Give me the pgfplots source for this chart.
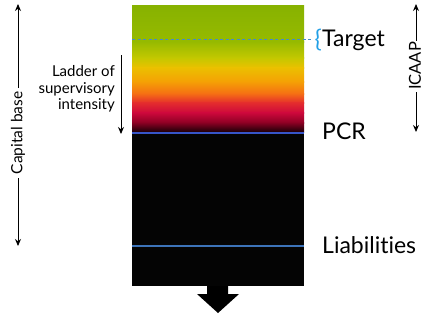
\documentclass[border=0pt]{standalone}
\usepackage{pgfplots}
\pgfplotsset{compat=1.18}
\usepackage{fontspec}
\setmainfont[Ligatures={NoCommon,NoRare}]{Lato}
\usetikzlibrary{arrows.meta}
\definecolor{g1}{RGB}{135,178,0}
\definecolor{g2}{RGB}{150,186,0}
\definecolor{g3}{RGB}{195,200,0}
\definecolor{y1}{RGB}{235,192,0}
\definecolor{o1}{RGB}{245,160,5}
\definecolor{o2}{RGB}{245,110,20}
\definecolor{r1}{RGB}{228,45,45}
\definecolor{r2}{RGB}{205,8,60}
\definecolor{r3}{RGB}{140,0,35}
\definecolor{k1}{RGB}{20,0,5}
\definecolor{bk}{RGB}{4,4,4}
\definecolor{dashblue}{RGB}{70,140,200}
\definecolor{pcrblue}{RGB}{55,85,200}
\definecolor{libblue}{RGB}{60,115,185}
\definecolor{braceblue}{RGB}{35,160,230}
\begin{document}
\begin{tikzpicture}
\begin{axis}[
  width=425pt, height=314pt, scale only axis,
  xmin=0, xmax=425, ymin=0, ymax=314, y dir=reverse,
  axis lines=none, clip=false,
]
% invisible frame
\addplot[draw=none] coordinates {(0,0) (425,314)};
% black lower part
\addplot[draw=none, fill=bk] coordinates {(132,133) (304,133) (304,286) (132,286)} --cycle;
% gradient bands
\addplot[draw=none, top color=g1, bottom color=g2] coordinates {(132,5) (304,5) (304,42) (132,42)} --cycle;
\addplot[draw=none, top color=g2, bottom color=g3] coordinates {(132,41.5) (304,41.5) (304,58) (132,58)} --cycle;
\addplot[draw=none, top color=g3, bottom color=y1] coordinates {(132,57.5) (304,57.5) (304,68) (132,68)} --cycle;
\addplot[draw=none, top color=y1, bottom color=o1] coordinates {(132,67.5) (304,67.5) (304,82) (132,82)} --cycle;
\addplot[draw=none, top color=o1, bottom color=o2] coordinates {(132,81.5) (304,81.5) (304,94) (132,94)} --cycle;
\addplot[draw=none, top color=o2, bottom color=r1] coordinates {(132,93.5) (304,93.5) (304,103) (132,103)} --cycle;
\addplot[draw=none, top color=r1, bottom color=r2] coordinates {(132,102.5) (304,102.5) (304,113) (132,113)} --cycle;
\addplot[draw=none, top color=r2, bottom color=r3] coordinates {(132,112.5) (304,112.5) (304,123) (132,123)} --cycle;
\addplot[draw=none, top color=r3, bottom color=k1] coordinates {(132,122.5) (304,122.5) (304,132.5) (132,132.5)} --cycle;
% lines
\addplot[dashblue, dash pattern=on 3pt off 2.5pt, line width=0.9pt] coordinates {(132,39) (311,39)};
\addplot[pcrblue, line width=1.3pt] coordinates {(132,133) (304,133)};
\addplot[libblue, line width=1.1pt] coordinates {(132,246) (304,246)};
% fat down arrow
\addplot[draw=none, fill=black] coordinates {(207,286) (228,286) (228,294) (239,294) (218,313) (197,294) (207,294)} --cycle;
% thin arrows
\addplot[black, line width=1pt, -{Stealth[length=7pt,width=6pt]}] coordinates {(416,41) (416,4)};
\addplot[black, line width=1pt, -{Stealth[length=7pt,width=6pt]}] coordinates {(416,92) (416,132)};
\addplot[black, line width=1pt, -{Stealth[length=7pt,width=6pt]}] coordinates {(18,88) (18,4)};
\addplot[black, line width=1pt, -{Stealth[length=7pt,width=6pt]}] coordinates {(18,178) (18,246)};
\addplot[black, line width=1pt, -{Stealth[length=7pt,width=6pt]}] coordinates {(121,55) (121,134)};
% texts
\node[anchor=west, inner sep=0pt, font=\fontsize{23}{26}\selectfont] at (axis cs:322,40) {Target};
\node[anchor=east, inner sep=0pt, text=braceblue, font=\fontsize{24}{26}\selectfont] at (axis cs:322,40) {\{};
\node[anchor=west, inner sep=0pt, font=\fontsize{23}{26}\selectfont] at (axis cs:322,131) {PCR};
\node[anchor=west, inner sep=0pt, font=\fontsize{23}{26}\selectfont] at (axis cs:322,245) {Liabilities};
\node[rotate=90, inner sep=0pt, font=\fontsize{16.5}{19}\selectfont] at (axis cs:415,66) {ICAAP};
\node[rotate=90, inner sep=0pt, font=\fontsize{15.5}{18}\selectfont] at (axis cs:18,133) {Capital base};
\node[anchor=east, align=right, inner sep=0pt, font=\fontsize{15}{16.5}\selectfont] at (axis cs:115,89) {Ladder of\\supervisory\\intensity};
\end{axis}
\end{tikzpicture}
\end{document}
